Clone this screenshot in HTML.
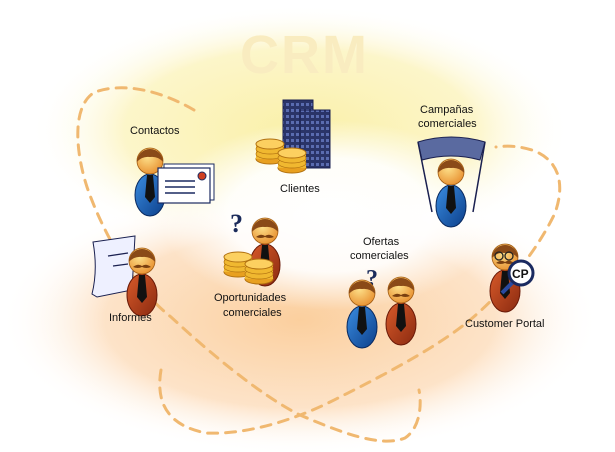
<!DOCTYPE html>
<html><head><meta charset="utf-8"><style>
html,body{margin:0;padding:0;background:#fff;}
svg{display:block;}
text{font-family:"Liberation Sans","DejaVu Sans",sans-serif;font-size:11px;fill:#111;}
</style></head><body>
<svg width="615" height="452" viewBox="0 0 615 452" xmlns="http://www.w3.org/2000/svg">
<defs>
<radialGradient id="yel" cx="0.5" cy="0.5" r="0.5"><stop offset="0" stop-color="#faf0a8"/><stop offset="0.65" stop-color="#fcf4c0" stop-opacity="0.85"/><stop offset="1" stop-color="#fff" stop-opacity="0"/></radialGradient>
<radialGradient id="pch" cx="0.5" cy="0.5" r="0.5"><stop offset="0" stop-color="#fbcf9e"/><stop offset="0.65" stop-color="#fde0c2" stop-opacity="0.9"/><stop offset="1" stop-color="#fff" stop-opacity="0"/></radialGradient>
<radialGradient id="wht" cx="0.5" cy="0.5" r="0.5"><stop offset="0" stop-color="#fff"/><stop offset="0.6" stop-color="#fff" stop-opacity="0.9"/><stop offset="1" stop-color="#fff" stop-opacity="0"/></radialGradient>
<radialGradient id="skin" cx="0.4" cy="0.35" r="0.7"><stop offset="0" stop-color="#fde08a"/><stop offset="1" stop-color="#e89030"/></radialGradient>
<linearGradient id="blue" x1="0" y1="0" x2="1" y2="1"><stop offset="0" stop-color="#3a8ce0"/><stop offset="1" stop-color="#0c3f8a"/></linearGradient>
<linearGradient id="red" x1="0" y1="0" x2="1" y2="1"><stop offset="0" stop-color="#d85a2a"/><stop offset="1" stop-color="#8a2a10"/></linearGradient>
<linearGradient id="bld" x1="0" y1="0" x2="1" y2="0"><stop offset="0" stop-color="#6a7ab0"/><stop offset="1" stop-color="#1e2a5a"/></linearGradient>
<pattern id="win" width="5" height="6" patternUnits="userSpaceOnUse"><rect width="5" height="6" fill="#2a3468"/><rect x="1" y="1" width="3" height="3" fill="#5a6cb0"/></pattern>
<g id="pb"><ellipse cx="0" cy="34" rx="15" ry="21" fill="url(#blue)" stroke="#0a2a60" stroke-width="1"/><path d="M-3 14 L3 14 L5 36 L0 42 L-5 36Z" fill="#111"/><circle cx="0" cy="0" r="13" fill="url(#skin)" stroke="#a05a10" stroke-width="0.8"/><path d="M-13 1 A13 13 0 0 1 13 1 Q8 -5 0 -4 Q-8 -5 -13 1Z" fill="#8a4a18"/></g>
<g id="pr"><ellipse cx="0" cy="34" rx="15" ry="21" fill="url(#red)" stroke="#6a1a08" stroke-width="1"/><path d="M-3 14 L3 14 L5 36 L0 42 L-5 36Z" fill="#111"/><circle cx="0" cy="0" r="13" fill="url(#skin)" stroke="#a05a10" stroke-width="0.8"/><path d="M-13 1 A13 13 0 0 1 13 1 Q8 -5 0 -4 Q-8 -5 -13 1Z" fill="#8a4a18"/><path d="M-9 6 Q-4 2 0 5 Q4 2 9 6 Q4 8 0 6 Q-4 8 -9 6Z" fill="#7a4010"/></g>
<g id="coin"><ellipse cx="0" cy="15" rx="14" ry="5" fill="#e8a020" stroke="#b07010"/><rect x="-14" y="0" width="28" height="15" fill="#f0b830"/><ellipse cx="0" cy="10" rx="14" ry="5" fill="#f0b830" stroke="#b07010" stroke-width="0.7"/><ellipse cx="0" cy="5" rx="14" ry="5" fill="#f0b830" stroke="#b07010" stroke-width="0.7"/><ellipse cx="0" cy="0" rx="14" ry="5" fill="#fcd060" stroke="#b07010"/></g>
</defs>
<rect width="615" height="452" fill="#fff"/>
<ellipse cx="300" cy="130" rx="270" ry="125" fill="url(#yel)"/>
<ellipse cx="300" cy="320" rx="300" ry="135" fill="url(#pch)"/>
<ellipse cx="330" cy="215" rx="170" ry="95" fill="url(#wht)"/>
<text x="240" y="73" style="font-size:54px;font-weight:bold;fill:#f9ecc0;letter-spacing:2px">CRM</text>
<g fill="none" stroke="#f0b870" stroke-width="3" stroke-dasharray="10 8" stroke-linecap="round">
<path d="M194 110 C170 96 130 80 95 92 C72 105 75 150 87 187 C100 225 130 285 171 317 C210 353 260 395 300 415 C340 432 380 448 405 438 C420 428 422 405 419 390"/>
<path d="M161 370 C156 400 165 425 206 433 C250 435 300 418 340 397 C390 372 440 345 470 320 C500 295 535 255 555 213 C565 185 560 160 532 150 C515 145 505 146 496 147"/>
</g>
<!-- Clientes building -->
<rect x="283" y="100" width="30" height="62" fill="url(#win)" stroke="#1a2050"/>
<rect x="300" y="110" width="30" height="58" fill="url(#win)" stroke="#1a2050"/>
<use href="#coin" x="270" y="144"/><use href="#coin" x="292" y="153"/>
<text x="280" y="192">Clientes</text>
<!-- Contactos -->
<use href="#pb" x="150" y="161"/>
<rect x="164" y="164" width="50" height="36" fill="#fff" stroke="#1a2a60"/>
<rect x="158" y="168" width="52" height="35" fill="#fff" stroke="#1a2a60" stroke-width="1.2"/>
<circle cx="202" cy="176" r="4" fill="#d04020" stroke="#1a2a60"/>
<g stroke="#1a2a60" stroke-width="1.5"><line x1="165" y1="181" x2="195" y2="181"/><line x1="165" y1="187" x2="195" y2="187"/><line x1="165" y1="193" x2="195" y2="193"/></g>
<text x="130" y="134">Contactos</text>
<!-- Campañas -->
<path d="M418 142 Q451 132 485 142 L480 160 Q451 152 422 160Z" fill="#5a6aa0" stroke="#1a2050"/>
<line x1="418" y1="142" x2="432" y2="212" stroke="#1a2050" stroke-width="1.5"/>
<line x1="485" y1="142" x2="473" y2="212" stroke="#1a2050" stroke-width="1.5"/>
<use href="#pb" x="451" y="172"/>
<text x="420" y="113">Campañas</text><text x="418" y="127">comerciales</text>
<!-- Informes -->
<path d="M93 242 L135 236 L132 290 L97 297 L92 294 Q98 270 93 242Z" fill="#eef0ff" stroke="#1a2050"/>
<g stroke="#1a2050" stroke-width="1.3"><line x1="108" y1="256" x2="128" y2="253"/><line x1="113" y1="266" x2="128" y2="264"/></g>
<use href="#pr" x="142" y="261"/>
<text x="109" y="321">Informes</text>
<!-- Oportunidades -->
<text x="230" y="232" style="font-size:26px;font-weight:bold;font-family:'Liberation Serif',serif;fill:#1a2a5a">?</text>
<use href="#pr" x="265" y="231"/>
<use href="#coin" x="238" y="257"/><use href="#coin" x="259" y="264"/>
<text x="214" y="301">Oportunidades</text><text x="223" y="316">comerciales</text>
<!-- Ofertas -->
<text x="366" y="286" style="font-size:24px;font-weight:bold;font-family:'Liberation Serif',serif;fill:#1a2a5a">?</text>
<use href="#pr" x="401" y="290"/>
<use href="#pb" x="362" y="293"/>
<text x="363" y="245">Ofertas</text><text x="350" y="259">comerciales</text>
<!-- Customer portal -->
<use href="#pr" x="505" y="257"/>
<g fill="none" stroke="#222" stroke-width="1.3"><circle cx="499" cy="256" r="4"/><circle cx="509" cy="256" r="4"/></g>
<line x1="502" y1="293" x2="515" y2="280" stroke="#2a4aa0" stroke-width="4"/>
<circle cx="521" cy="273" r="12" fill="#fff" stroke="#1a2a60" stroke-width="3"/>
<text x="512" y="278" style="font-size:12px;font-weight:bold">CP</text>
<text x="465" y="327">Customer Portal</text>
</svg>
</body></html>
